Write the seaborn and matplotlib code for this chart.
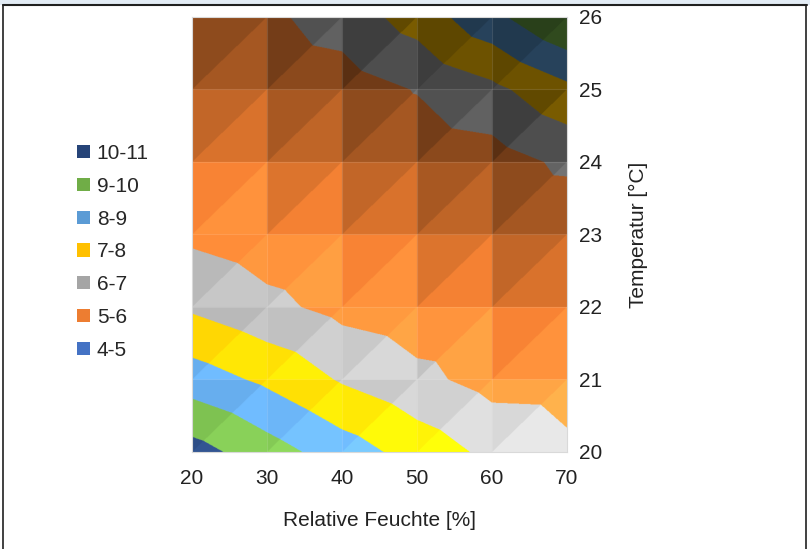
import numpy as np
import matplotlib
matplotlib.use("Agg")
import matplotlib.pyplot as plt
import matplotlib.tri as mtri
from matplotlib.patches import Patch, Rectangle
from matplotlib.lines import Line2D
from matplotlib.colors import to_rgb
import seaborn as sns

# ---------------- data ----------------
rel_humidity = [20, 30, 40, 50, 60, 70]          # Relative Feuchte [%]
temperature = [20, 21, 22, 23, 24, 25, 26]       # Temperatur [°C]
# surface values, one row per temperature (20 .. 26 °C), one column per humidity
values_t20 = [10.4, 9.45, 8.5, 7.6, 6.75, 6.2]
values_t21 = [8.5, 7.8, 6.9, 6.25, 5.65, 5.6]
values_t22 = [6.85, 6.25, 5.7, 5.4, 5.25, 5.3]
values_t23 = [5.8, 5.45, 5.2, 5.1, 5.1, 5.2]
values_t24 = [5.35, 5.2, 5.15, 5.35, 5.55, 6.2]
values_t25 = [5.2, 5.3, 5.5, 6.05, 6.75, 7.75]
values_t26 = [5.5, 5.8, 6.45, 7.43, 8.73, 10.05]

band_labels = ["4-5", "5-6", "6-7", "7-8", "8-9", "9-10", "10-11"]
band_edges = [4, 5, 6, 7, 8, 9, 10, 11]
band_colors = ["#4472C4", "#ED7D31", "#A5A5A5", "#FFC000",
               "#5B9BD5", "#70AD47", "#264478"]

# ---------------- style ----------------
sns.set_theme(style="white")
plt.rcParams["font.family"] = ["Liberation Sans", "DejaVu Sans"]

W, H = 810, 549
fig = plt.figure(figsize=(W / 100, H / 100), dpi=100)
fig.patch.set_facecolor("white")

ax = fig.add_axes([192 / W, 1 - 452 / H, (567 - 192) / W, (452 - 17) / H])

# ---------------- surface (top view, Excel-like) ----------------
Z = np.array([values_t20, values_t21, values_t22, values_t23,
              values_t24, values_t25, values_t26])
X, Y = np.meshgrid(rel_humidity, temperature)
nT, nR = Z.shape
tris = []
facet = []
for i in range(nT - 1):
    for j in range(nR - 1):
        a, b = i * nR + j, i * nR + j + 1
        c, d = (i + 1) * nR + j + 1, (i + 1) * nR + j
        tris.append([a, b, c]); facet.append(+1)   # lower-right triangle
        tris.append([a, c, d]); facet.append(-1)   # upper-left triangle
triang = mtri.Triangulation(X.ravel(), Y.ravel(), np.array(tris))
interp = mtri.LinearTriInterpolator(triang, Z.ravel())
finder = triang.get_trifinder()

# per-triangle shading factor (lighting of the 3-D surface)
tri_arr = np.array(tris)
cx = X.ravel()[tri_arr].mean(axis=1)
cy = Y.ravel()[tri_arr].mean(axis=1)
dist = cy - (23.25 - 0.05 * (cx - 20))
cap = 1.12 + 0.0042 * (cx - 20)
shade = np.clip(1.2 - 0.22 * dist, 0.4, cap) + 0.03 * np.array(facet)

nx, ny = 750, 870
xs = rel_humidity[0] + (np.arange(nx) + 0.5) * (rel_humidity[-1] - rel_humidity[0]) / nx
ys = temperature[0] + (np.arange(ny) + 0.5) * (temperature[-1] - temperature[0]) / ny
GX, GY = np.meshgrid(xs, ys)
zf = np.asarray(interp(GX, GY).filled(np.nan))
tid = finder(GX, GY)

band = np.clip(np.digitize(zf, band_edges) - 1, 0, len(band_colors) - 1)
base = np.array([to_rgb(c) for c in band_colors])[band]
f = shade[tid][..., None]
img = np.clip(base * f + 0.12 * np.clip(f - 1, 0, None), 0, 1)

ax.imshow(img, origin="lower", aspect="auto", interpolation="antialiased",
          extent=(rel_humidity[0], rel_humidity[-1], temperature[0], temperature[-1]))

# faint cell boundaries
for x in rel_humidity[1:-1]:
    ax.axvline(x, color="white", alpha=0.12, lw=0.8)
for y in temperature[1:-1]:
    ax.axhline(y, color="white", alpha=0.12, lw=0.8)

ax.set_xlim(rel_humidity[0], rel_humidity[-1])
ax.set_ylim(temperature[0], temperature[-1])
ax.set_xticks(rel_humidity)
ax.set_yticks(temperature)
ax.yaxis.tick_right()
ax.yaxis.set_label_position("right")
ax.tick_params(axis="both", length=0, labelsize=15, colors="#222222")
ax.tick_params(axis="x", pad=12)
ax.tick_params(axis="y", pad=9)
for s in ax.spines.values():
    s.set_color("#D9D9D9")
    s.set_linewidth(0.8)

ax.set_xlabel("Relative Feuchte [%]", fontsize=15, color="#222222", labelpad=17)
ax.set_ylabel("Temperatur [°C]", fontsize=15, color="#222222", labelpad=19)

# ---------------- legend ----------------
handles = [Patch(facecolor=c, edgecolor="none") for c in band_colors][::-1]
labels = band_labels[::-1]
fig.legend(handles, labels, loc="upper left", bbox_to_anchor=(77 / W, 1 - 144 / H),
           frameon=False, fontsize=15, handlelength=0.6, handleheight=0.6,
           handletextpad=0.35, labelspacing=0.66, borderpad=0, borderaxespad=0)

# ---------------- screenshot frame ----------------
fig.add_artist(Rectangle((0, 1 - 5 / H), 1, 5 / H, transform=fig.transFigure,
                         facecolor="#E3ECF5", edgecolor="none"))
fig.add_artist(Line2D([3 / W, 807 / W], [1 - 5 / H, 1 - 5 / H],
                      transform=fig.transFigure, color="#202020", lw=1.5))
fig.add_artist(Line2D([3 / W, 3 / W], [0, 1 - 5 / H],
                      transform=fig.transFigure, color="#202020", lw=1.2))
fig.add_artist(Line2D([806 / W, 806 / W], [0, 1 - 5 / H],
                      transform=fig.transFigure, color="#202020", lw=1.2))

fig.savefig("out.png", dpi=100)
